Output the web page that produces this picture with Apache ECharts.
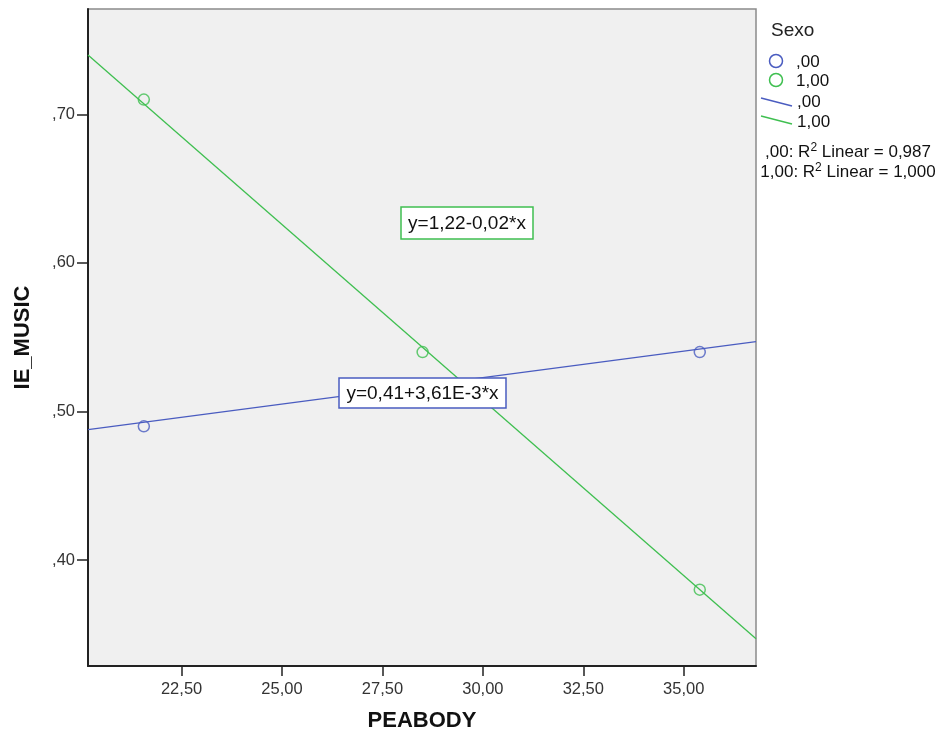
<!DOCTYPE html>
<html><head><meta charset="utf-8">
<script src="https://cdn.jsdelivr.net/npm/echarts@6/dist/echarts.min.js"></script>
<style>html,body{margin:0;padding:0;background:#fff}#c{width:941px;height:733px}</style>
</head><body><div id="c"></div>
<script>
// ---- data ----
const groups = [',00', '1,00'];
const groupColors = ['#4a5cc0', '#3fbf50'];
const pointsGroup0 = [[21.56, 0.49], [35.40, 0.54]];
const pointsGroup1 = [[21.56, 0.71], [28.50, 0.54], [35.40, 0.38]];
const fitGroup0 = [[20.17, 0.4877], [36.80, 0.547]];
const fitGroup1 = [[20.17, 0.740], [36.80, 0.347]];
const equations = ['y=0,41+3,61E-3*x', 'y=1,22-0,02*x'];
const rSquaredLabels = [',00', '1,00'];
const rSquaredValues = ['0,987', '1,000'];
const xTicks = [22.5, 25, 27.5, 30, 32.5, 35];
const yTicks = [0.4, 0.5, 0.6, 0.7];
const xRange = [20.17, 36.80];
const yRange = [0.3286, 0.771];
const xTitle = 'PEABODY';
const yTitle = 'IE_MUSIC';
const legendTitle = 'Sexo';

const FONT = '"Liberation Sans", Arial, sans-serif';
const chart = echarts.init(document.getElementById('c'), null, {renderer: 'canvas'});

const fmtX = v => v.toFixed(2).replace('.', ',');
const fmtY = v => v.toFixed(2).replace(/^0\./, ',');

const graphic = [];
// equation boxes
const eqBoxes = [
  {x: 339, y: 378, w: 167, h: 30, color: groupColors[0], text: equations[0]},
  {x: 401, y: 207, w: 132, h: 32, color: groupColors[1], text: equations[1]}
];
eqBoxes.forEach(b => {
  graphic.push({type: 'rect', z: 100, shape: {x: b.x, y: b.y, width: b.w, height: b.h},
    style: {fill: '#fff', stroke: b.color, lineWidth: 1.5}});
  graphic.push({type: 'text', z: 101, x: b.x + b.w / 2, y: b.y + b.h / 2 + 1,
    style: {text: b.text, fill: '#111', font: '19px ' + FONT, align: 'center', verticalAlign: 'middle'}});
});
// legend
graphic.push({type: 'text', x: 771, y: 31, style: {text: legendTitle, fill: '#222', font: '19px ' + FONT, verticalAlign: 'middle'}});
[61, 80].forEach((cy, i) => {
  graphic.push({type: 'circle', shape: {cx: 776, cy: cy, r: 6.5}, style: {fill: 'none', stroke: groupColors[i], lineWidth: 1.5}});
  graphic.push({type: 'text', x: 796, y: cy + 1, style: {text: groups[i], fill: '#111', font: '17px ' + FONT, verticalAlign: 'middle'}});
});
[[98, 101], [116, 121]].forEach((p, i) => {
  graphic.push({type: 'line', shape: {x1: 761, y1: p[0], x2: 792, y2: p[0] + 8}, style: {stroke: groupColors[i], lineWidth: 1.3}});
  graphic.push({type: 'text', x: 797, y: p[1] + 1, style: {text: groups[i], fill: '#111', font: '17px ' + FONT, verticalAlign: 'middle'}});
});
[152, 172].forEach((cy, i) => {
  graphic.push({type: 'text', x: 848, y: cy, style: {
    text: rSquaredLabels[i] + ': R{sup|2} Linear = ' + rSquaredValues[i],
    fill: '#111', font: '17px ' + FONT, fontSize: 17, fontFamily: FONT, align: 'center', verticalAlign: 'middle',
    rich: {sup: {fontSize: 12, fontFamily: FONT, fill: '#111', verticalAlign: 'top', padding: [0, 0, 8, 0]}}}});
});

const option = {
  backgroundColor: '#fff',
  animation: false,
  grid: {left: 88, top: 9, right: 185, bottom: 67, outerBoundsMode: 'none', containLabel: false,
    show: true, backgroundColor: '#f0f0f0', borderColor: '#8a8a8a', borderWidth: 1.5},
  xAxis: {
    type: 'value', min: xRange[0], max: xRange[1],
    name: xTitle, nameLocation: 'middle', nameGap: 44,
    nameTextStyle: {fontFamily: FONT, fontWeight: 'bold', fontSize: 22, color: '#111'},
    splitLine: {show: false},
    axisLine: {show: true, onZero: false, lineStyle: {color: '#222', width: 2}},
    axisTick: {show: true, length: 10, customValues: xTicks, lineStyle: {color: '#222', width: 1.5}},
    axisLabel: {customValues: xTicks, formatter: fmtX, margin: 15, fontFamily: FONT, fontSize: 16.5, color: '#333'}
  },
  yAxis: {
    type: 'value', min: yRange[0], max: yRange[1],
    name: yTitle, nameLocation: 'middle', nameGap: 54,
    nameTextStyle: {fontFamily: FONT, fontWeight: 'bold', fontSize: 22, color: '#111'},
    splitLine: {show: false},
    axisLine: {show: true, onZero: false, lineStyle: {color: '#222', width: 2}},
    axisTick: {show: true, length: 11, customValues: yTicks, lineStyle: {color: '#222', width: 1.5}},
    axisLabel: {customValues: yTicks, formatter: fmtY, margin: 13, fontFamily: FONT, fontSize: 16.5, color: '#333'}
  },
  series: [
    {type: 'line', data: fitGroup0, symbol: 'none', lineStyle: {color: groupColors[0], width: 1.3}, z: 2},
    {type: 'line', data: fitGroup1, symbol: 'none', lineStyle: {color: groupColors[1], width: 1.3}, z: 2},
    {type: 'scatter', data: pointsGroup0, symbol: 'circle', symbolSize: 11,
      itemStyle: {color: 'rgba(0,0,0,0)', borderColor: groupColors[0], borderWidth: 1.5}, z: 3},
    {type: 'scatter', data: pointsGroup1, symbol: 'circle', symbolSize: 11,
      itemStyle: {color: 'rgba(0,0,0,0)', borderColor: groupColors[1], borderWidth: 1.5}, z: 3}
  ],
  graphic: graphic
};
chart.setOption(option);
</script>
</body></html>
